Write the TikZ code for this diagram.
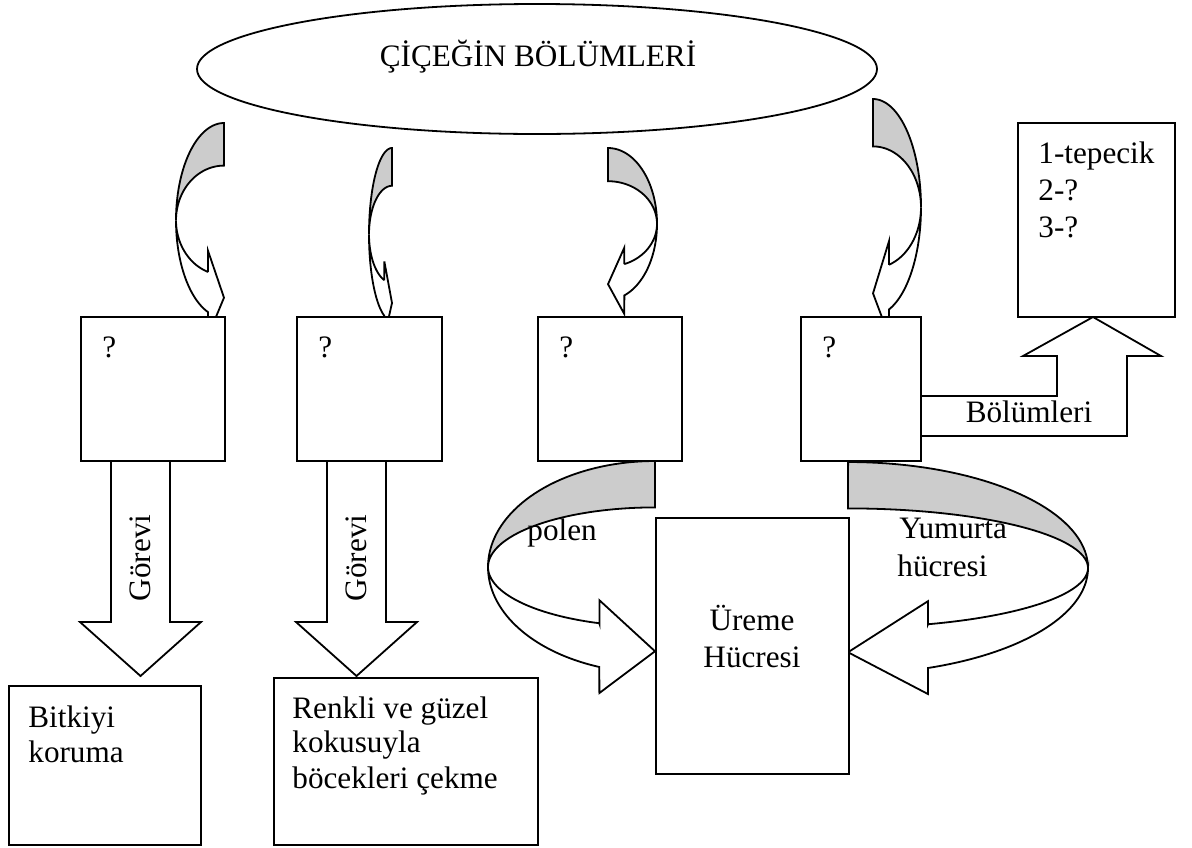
\documentclass[tikz,border=0pt]{standalone}
\usepackage{fontspec}
\setmainfont{Liberation Serif}
\usetikzlibrary{shapes.geometric}
\definecolor{backgray}{RGB}{204,204,204}
\tikzset{
  outline/.style={draw=black, line width=0.9pt, line join=miter},
  backface/.style={outline, fill=backgray},
  frontface/.style={outline, fill=white},
  box/.style={outline, fill=white, rectangle, inner sep=0pt, anchor=north west},
  txt/.style={font=\fontsize{15.6}{18.5}\selectfont, inner sep=0pt},
}
% Curved block arrow (shaded back band on top, white front band with head at the bottom).
% #1,#2: x of the head side edge and top y; #3: signed width (negative = mirrored); #4: height
\newcommand\curvedblock[4]{%
  \begin{scope}[shift={(#1,#2)},x={(#3*0.5pt,0pt)},y={(0pt,-#4*0.5pt)}]
    \filldraw[backface]
      plot[variable=\s,domain=0:1,samples=40] ({1+cos(180+90*\s)},{0.457+0.457*sin(180+90*\s)})
      -- (1,0.2)
      -- plot[variable=\s,domain=0:1,samples=40] ({1+cos(270-90*\s)},{0.457+0.257*sin(270-90*\s)})
      -- cycle;
    \filldraw[frontface]
      plot[variable=\s,domain=0:1,samples=40] ({1+cos(180-70.53*\s)},{0.457+0.457*sin(180-70.53*\s)})
      -- (0.667,1) -- (1,0.82) -- (0.667,0.6) -- (0.667,0.7)
      -- plot[variable=\s,domain=0:1,samples=40] ({1+cos(109.47+70.53*\s)},{0.457+0.257*sin(109.47+70.53*\s)})
      -- cycle;
  \end{scope}}

\begin{document}
\begin{tikzpicture}[x=0.5pt,y=-0.5pt]
\useasboundingbox (0,0) rectangle (1192,847);

% title ellipse
\node[outline, ellipse, inner sep=0pt, minimum width=340pt, minimum height=65pt] (title) at (537,69) {};
\node[txt, anchor=base] (titletext) at (538,66) {ÇİÇEĞİN BÖLÜMLERİ};

% curved arrows from the title to the parts
\curvedblock{176}{123}{48}{213}
\curvedblock{369}{148}{23}{189}
\curvedblock{657}{148}{-49}{166}
\curvedblock{921}{99}{-48}{237}

% straight arrows "Görevi"
\draw[frontface] (111,460) -- (111,622) -- (80,622) -- (140.5,676) -- (201,622) -- (170,622) -- (170,460) -- cycle;
\draw[frontface] (327,460) -- (327,622) -- (296,622) -- (356.5,676) -- (417,622) -- (386,622) -- (386,460) -- cycle;

% bent arrow "Bölümleri"
\draw[frontface] (920,396) -- (1057,396) -- (1057,356) -- (1023,356) -- (1093,317) -- (1161,356) -- (1127,356) -- (1127,436) -- (920,436) -- cycle;

% big curved arrows into the reproductive cell box
\curvedblock{488}{461}{167}{232}
\curvedblock{1088}{462}{-240}{232}

% boxes
\node[box, minimum width=72pt, minimum height=72pt] (q1) at (80,316) {};
\node[box, minimum width=72.5pt, minimum height=72pt] (q2) at (296,316) {};
\node[box, minimum width=72pt, minimum height=72pt] (q3) at (537,316) {};
\node[box, minimum width=60pt, minimum height=72pt] (q4) at (800,316) {};
\node[box, minimum width=78.5pt, minimum height=97pt] (tep) at (1017,122) {};
\node[box, minimum width=96pt, minimum height=79.5pt] (t1) at (8,685) {};
\node[box, minimum width=132pt, minimum height=83.5pt] (t2) at (273,677) {};
\node[box, minimum width=96.5pt, minimum height=128pt] (ur) at (655,517) {};

% texts
\node[txt, anchor=base west] (q1t) at (102,357) {?};
\node[txt, anchor=base west] (q2t) at (318,357) {?};
\node[txt, anchor=base west] (q3t) at (559,357) {?};
\node[txt, anchor=base west] (q4t) at (822,357) {?};

\node[txt, anchor=base west] (tep1) at (1038,163) {1-tepecik};
\node[txt, anchor=base west] (tep2) at (1038,200) {2-?};
\node[txt, anchor=base west] (tep3) at (1038,237) {3-?};

\node[txt, rotate=90, anchor=base] (gv1) at (150,558) {Görevi};
\node[txt, rotate=90, anchor=base] (gv2) at (366,558) {Görevi};

\node[txt, anchor=base] (bol) at (1029,422) {Bölümleri};

\node[txt, anchor=base west] (polen) at (527,540) {polen};
\node[txt, anchor=base west] (yum1) at (899,538) {Yumurta};
\node[txt, anchor=base west] (yum2) at (897,576) {hücresi};

\node[txt, anchor=base] (ur1) at (752,630) {Üreme};
\node[txt, anchor=base] (ur2) at (752,667) {Hücresi};

\node[txt, anchor=base west] (b1) at (28,727) {Bitkiyi};
\node[txt, anchor=base west] (b2) at (28,762) {koruma};

\node[txt, anchor=base west] (r1) at (292,718) {Renkli ve güzel};
\node[txt, anchor=base west] (r2) at (292,752) {kokusuyla};
\node[txt, anchor=base west] (r3) at (292,788) {böcekleri çekme};
\end{tikzpicture}
\end{document}
